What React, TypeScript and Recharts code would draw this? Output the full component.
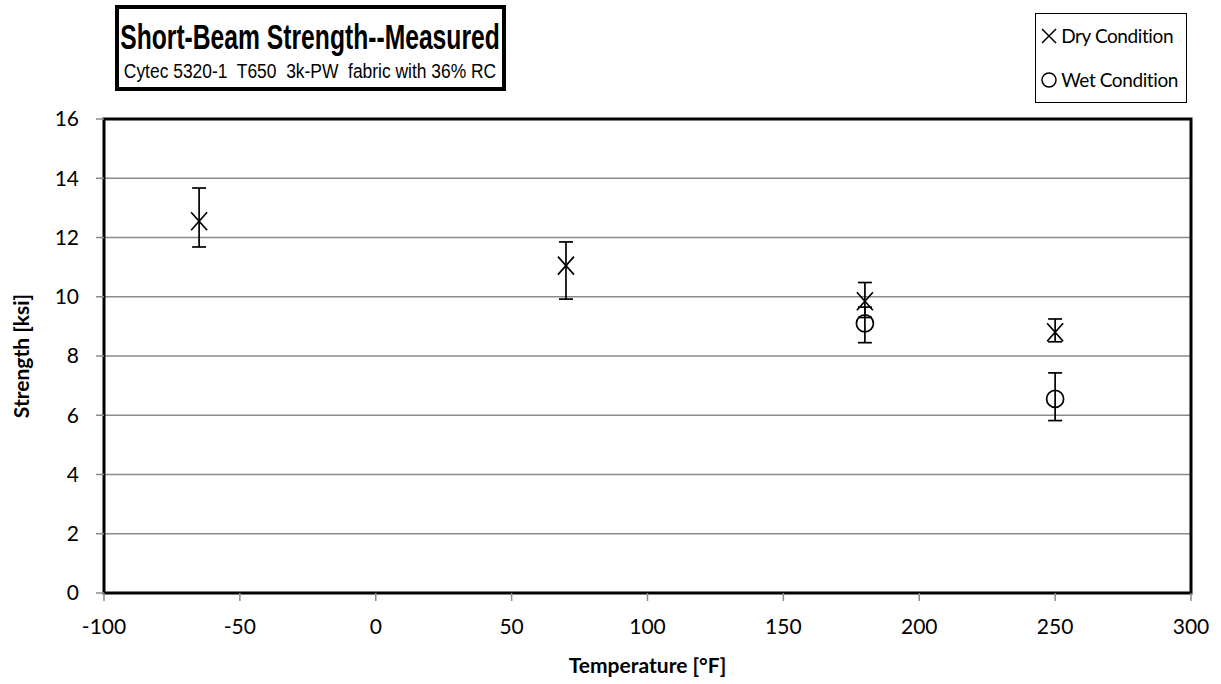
import {
  ErrorBar,
  Label,
  CartesianGrid,
  ReferenceArea,
  Scatter,
  ScatterChart,
  XAxis,
  YAxis,
} from "recharts";

// test temperatures (°F) and measured short-beam strength (ksi)
const dryTemps = [-65, 70, 180, 250];
const dryMean = [12.55, 11.05, 9.85, 8.8];
const dryLow = [11.68, 9.92, 9.3, 8.48];
const dryHigh = [13.67, 11.85, 10.48, 9.25];

const wetTemps = [180, 250];
const wetMean = [9.1, 6.55];
const wetLow = [8.45, 5.82];
const wetHigh = [9.65, 7.43];

const xTicks = [-100, -50, 0, 50, 100, 150, 200, 250, 300];
const yTicks = [0, 2, 4, 6, 8, 10, 12, 14, 16];

const seriesNames = ["Dry Condition", "Wet Condition"];

const toRows = (xs: number[], mean: number[], low: number[], high: number[]) =>
  xs.map((x, i) => ({ x, y: mean[i], err: [mean[i] - low[i], high[i] - mean[i]] }));

const dryData = toRows(dryTemps, dryMean, dryLow, dryHigh);
const wetData = toRows(wetTemps, wetMean, wetLow, wetHigh);

const FONT = "Lato, 'Open Sans', sans-serif";
const ARIAL = "'Liberation Sans', Arial, sans-serif";

const Cross = (props: any) => {
  const { cx, cy } = props;
  if (cx == null || cy == null) return null;
  return (
    <path
      d={`M${cx - 8},${cy - 9}L${cx + 8},${cy + 9}M${cx - 8},${cy + 9}L${cx + 8},${cy - 9}`}
      stroke="#000"
      strokeWidth={1.7}
      fill="none"
    />
  );
};

const Ring = (props: any) => {
  const { cx, cy } = props;
  if (cx == null || cy == null) return null;
  return <circle cx={cx} cy={cy} r={8.5} stroke="#000" strokeWidth={1.7} fill="none" />;
};

const LegendBox = () => (
  <div
    style={{
      position: "absolute",
      right: 34,
      top: 13,
      border: "1px solid #000",
      background: "#fff",
      fontFamily: FONT,
      fontSize: 19,
      letterSpacing: -0.4,
      padding: "0 8px 0 4px",
      lineHeight: "44px",
    }}
  >
    {seriesNames.map((name, i) => (
      <div key={name} style={{ display: "flex", alignItems: "center", gap: 3 }}>
        <svg width={18} height={18}>
          {i === 0 ? (
            <path d="M2,2L16,16M2,16L16,2" stroke="#000" strokeWidth={1.5} />
          ) : (
            <circle cx={9} cy={9} r={7} stroke="#000" strokeWidth={1.5} fill="none" />
          )}
        </svg>
        <span>{name}</span>
      </div>
    ))}
  </div>
);

export default function App() {
  return (
    <div style={{ position: "absolute", left: 0, top: 0, width: 1221, height: 684, background: "#fff" }}>
      <ScatterChart width={1221} height={684} margin={{ top: 119, right: 30, bottom: 7, left: 14 }}>
        <CartesianGrid vertical={false} stroke="#8a8a8a" strokeWidth={1.5} />
        <XAxis
          type="number"
          dataKey="x"
          domain={[-100, 300]}
          ticks={xTicks}
          interval={0}
          axisLine={false}
          tickLine={{ stroke: "#8a8a8a", strokeWidth: 1.5 }}
          tickSize={8}
          tickMargin={18}
          height={84}
          tick={{ fill: "#000", fontSize: 21, fontFamily: FONT }}
        >
          <Label
            value="Temperature [°F]"
            position="insideBottom"
            offset={4}
            style={{ fontFamily: FONT, fontWeight: 700, fontSize: 21, fill: "#000" }}
          />
        </XAxis>
        <YAxis
          type="number"
          dataKey="y"
          domain={[0, 16]}
          ticks={yTicks}
          interval={0}
          axisLine={false}
          tickLine={{ stroke: "#8a8a8a", strokeWidth: 1.5 }}
          tickSize={8}
          tickMargin={17}
          width={90}
          tick={{ fill: "#000", fontSize: 21, fontFamily: FONT }}
        >
          <Label
            value="Strength [ksi]"
            angle={-90}
            position="insideLeft"
            offset={8}
            style={{ textAnchor: "middle", fontFamily: FONT, fontWeight: 700, fontSize: 21, fill: "#000" }}
          />
        </YAxis>
        <ReferenceArea x1={-100} x2={300} y1={0} y2={16} fill="none" stroke="#000" strokeWidth={3} ifOverflow="visible" />
        <Scatter name={seriesNames[0]} data={dryData} shape={<Cross />} isAnimationActive={false}>
          <ErrorBar dataKey="err" direction="y" width={7} stroke="#000" strokeWidth={1.7} />
        </Scatter>
        <Scatter name={seriesNames[1]} data={wetData} shape={<Ring />} isAnimationActive={false}>
          <ErrorBar dataKey="err" direction="y" width={7} stroke="#000" strokeWidth={1.7} />
        </Scatter>
      </ScatterChart>
      <LegendBox />
      <div
        style={{
          position: "absolute",
          left: 115,
          top: 5,
          width: 383,
          height: 78,
          border: "4px solid #000",
          background: "#fff",
        }}
      >
        <svg width={383} height={78} style={{ display: "block" }}>
          <g transform="translate(191,40) scale(0.705,1)">
            <text x={0} y={0} textAnchor="middle" style={{ fontFamily: ARIAL, fontWeight: 700, fontSize: 35 }}>
              Short-Beam Strength--Measured
            </text>
          </g>
          <g transform="translate(191,69) scale(0.83,1)">
            <text x={0} y={0} textAnchor="middle" style={{ fontFamily: ARIAL, fontSize: 21, whiteSpace: "pre" }}>
              {"Cytec 5320-1  T650  3k-PW  fabric with 36% RC"}
            </text>
          </g>
        </svg>
      </div>
    </div>
  );
}
